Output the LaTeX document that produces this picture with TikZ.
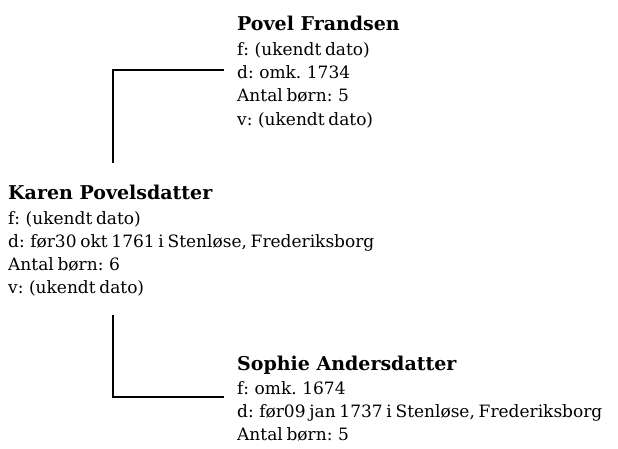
\documentclass[tikz,border=0pt]{standalone}
\usepackage{fontspec}
\setmainfont{DejaVu Serif}
\begin{document}
\begin{tikzpicture}[x=1pt,y=1pt,
  namestyle/.style={anchor=base west,inner sep=0pt,font=\fontsize{19}{19}\selectfont\bfseries},
  infostyle/.style={anchor=base west,inner sep=0pt,font={\fontsize{17}{17}\selectfont\spaceskip=0.22em\relax}},
  link/.style={draw=black,line width=1.6pt}]
\useasboundingbox (0,0) rectangle (618,448);
% Povel Frandsen
\node[namestyle] (p0) at (237,417) {Povel Frandsen};
\node[infostyle] (p1) at (237,392) {f: (ukendt dato)};
\node[infostyle] (p2) at (237,369) {d: omk. 1734};
\node[infostyle] (p3) at (237,346) {Antal børn: 5};
\node[infostyle] (p4) at (237,323) {v: (ukendt dato)};
% Karen
\node[namestyle] (k0) at (8,249) {Karen Povelsdatter};
\node[infostyle] (k1) at (8,224) {f: (ukendt dato)};
\node[infostyle] (k2) at (8,201) {d: før30 okt 1761 i Stenløse, Frederiksborg};
\node[infostyle] (k3) at (8,178) {Antal børn: 6};
\node[infostyle] (k4) at (8,155) {v: (ukendt dato)};
% Sophie
\node[namestyle] (s0) at (237,78) {Sophie Andersdatter};
\node[infostyle] (s1) at (237,54) {f: omk. 1674};
\node[infostyle] (s2) at (237,31) {d: før09 jan 1737 i Stenløse, Frederiksborg};
\node[infostyle] (s3) at (237,8) {Antal børn: 5};
% connectors
\coordinate (ktop) at (113,285);
\coordinate (kbot) at (113,133);
\coordinate (pjoin) at (224,378);
\coordinate (sjoin) at (224,51);
\draw[link] (ktop) |- (pjoin);
\draw[link] (kbot) |- (sjoin);
\end{tikzpicture}
\end{document}
